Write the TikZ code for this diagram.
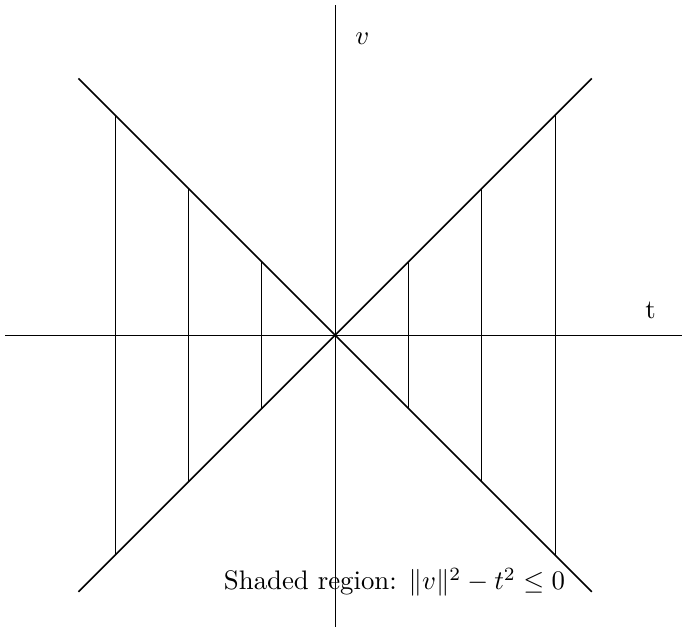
\documentclass[tikz,border=0pt]{standalone}
\usepackage{amsmath,amssymb}
\begin{document}
\begin{tikzpicture}[axis/.style={line width=0.4pt}, cone/.style={line width=0.6pt}, rung/.style={line width=0.4pt}, lbl/.style={scale=1.04}]
\useasboundingbox (-4.57,-4.01) rectangle (4.73,4.57);
\coordinate (O) at (0,0);
\coordinate (xl) at (-4.5,0);
\coordinate (xr) at (4.75,0);
\coordinate (yb) at (0,-3.98);
\coordinate (yt) at (0,4.5);
\draw[axis] (xl) -- (xr);
\draw[axis] (yb) -- (yt);
\coordinate (ul) at (-3.5,3.5);
\coordinate (lr) at (3.5,-3.5);
\coordinate (ll) at (-3.5,-3.5);
\coordinate (ur) at (3.5,3.5);
\draw[cone] (ul) -- (lr);
\draw[cone] (ll) -- (ur);
\foreach \x [count=\i] in {-3,-2,-1,1,2,3}{
  \coordinate (top\i) at (\x,{abs(\x)});
  \coordinate (bot\i) at (\x,{-abs(\x)});
  \draw[rung] (top\i) -- (bot\i);
}
\node[lbl] (vlab) at (0.37,4.04) {$v$};
\node[lbl] (tlab) at (4.3,0.34) {t};
\node[lbl] (cap) at (0.81,-3.37) {Shaded region: $\|v\|^2 - t^2 \leq 0$};
\end{tikzpicture}
\end{document}
